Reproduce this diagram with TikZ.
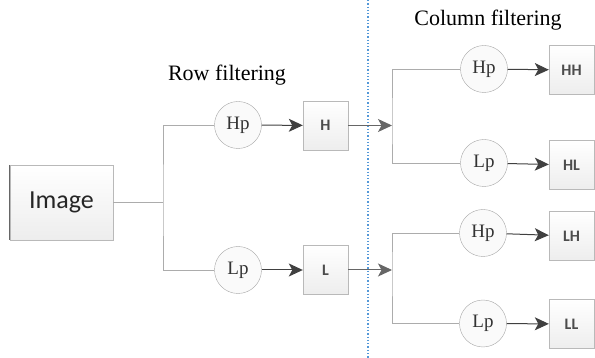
\documentclass[tikz,border=0pt]{standalone}
\usepackage{fontspec}
\setmainfont{Liberation Serif}
\newfontfamily\boxfont{Carlito}
\usetikzlibrary{arrows.meta}

\begin{document}
\begin{tikzpicture}[x=1pt,y=-1pt]
\tikzstyle{every node}+=[inner sep=0pt]
\tikzstyle{band}=[rectangle, draw=gray!55, top color=white, bottom color=gray!14, minimum width=45, minimum height=49, font=\boxfont\bfseries\fontsize{16}{18}\selectfont, text=black!70]
\tikzstyle{filt}=[circle, draw=gray!70, fill=gray!4, minimum size=47, font=\fontsize{19}{21}\selectfont, text=black!80]
\tikzstyle{branch}=[draw=gray!65, line width=0.8pt]
\tikzstyle{flow}=[draw=black!75, line width=1pt, -{Stealth[length=14pt,width=13pt,inset=3.5pt]}]
\useasboundingbox (0,0) rectangle (595,358);
% source
\node [band, minimum width=103, minimum height=75, font=\boxfont\fontsize{26}{30}\selectfont, text=black!85] (img) at (61.5,202.5) {Image};
\draw [black!60, line width=1.2pt] (img.north west) -- (img.south west);
% row filtering
\draw (227,75) node {\fontsize{22}{24}\selectfont Row filtering};
\node [filt] (rHp) at (238,125) {Hp};
\node [filt] (rLp) at (238,270) {Lp};
\node [band] (rH) at (325.5,125.5) {H};
\node [band] (rL) at (325.5,270) {L};
\coordinate (j1) at (163,202.5);
\draw [branch] (img.east) -- (j1);
\draw [branch] (rHp.west) -| (j1) |- (rLp.west);
\draw [flow] (rHp) -- (rH);
\draw [flow] (rLp) -- (rL);
% divider
\draw [cyan!60!blue!70, line width=1.3pt, dotted] (368,0) -- (368,358);
% column filtering
\draw (488,20) node {\fontsize{22}{24}\selectfont Column filtering};
\node [filt] (cHp1) at (484,69) {Hp};
\node [filt] (cLp1) at (484,163) {Lp};
\node [filt] (cHp2) at (483,233) {Hp};
\node [filt] (cLp2) at (483,323.5) {Lp};
\node [band] (HH) at (571.5,70) {HH};
\node [band] (HL) at (571.5,165) {HL};
\node [band] (LH) at (571.5,236) {LH};
\node [band] (LL) at (571.5,324) {LL};
\coordinate (j2) at (392,125.5);
\coordinate (j3) at (392,270);
\draw [flow, draw=black!60] (rH) -- (j2);
\draw [flow, draw=black!60] (rL) -- (j3);
\draw [branch] (cHp1.west) -| (j2) |- (cLp1.west);
\draw [branch] (cHp2.west) -| (j3) |- (cLp2.west);
\draw [flow] (cHp1) -- (HH);
\draw [flow] (cLp1) -- (HL);
\draw [flow] (cHp2) -- (LH);
\draw [flow] (cLp2) -- (LL);
\end{tikzpicture}
\end{document}
